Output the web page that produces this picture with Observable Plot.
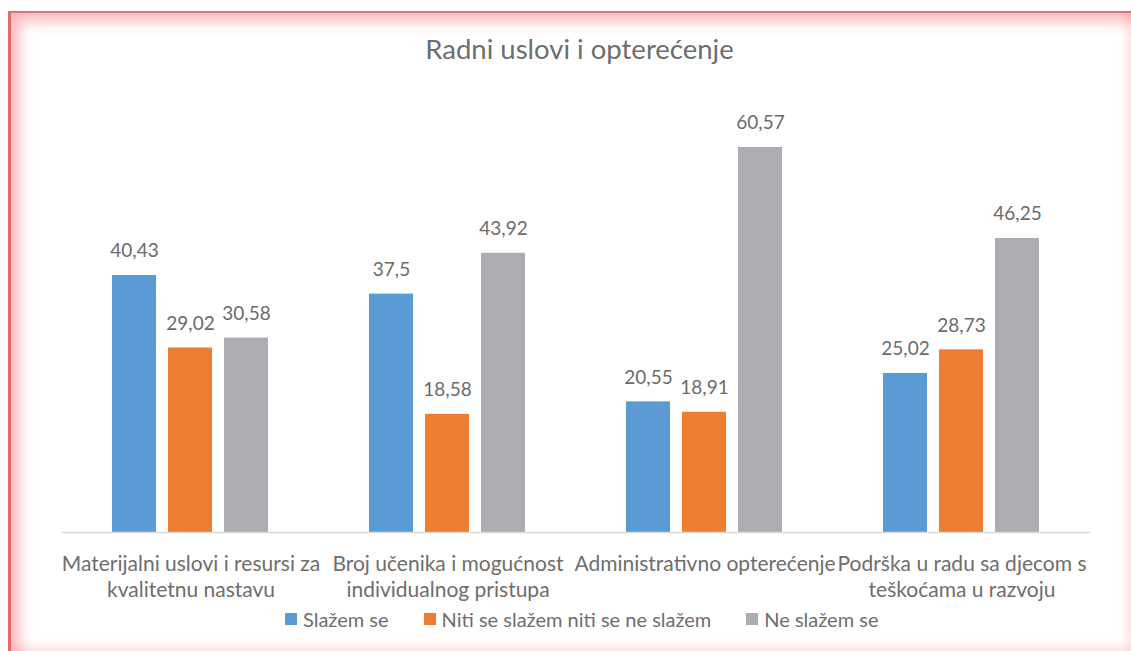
<!DOCTYPE html>
<html>
<head>
<meta charset="utf-8">
<script src="https://cdn.jsdelivr.net/npm/d3@7"></script>
<script src="https://cdn.jsdelivr.net/npm/@observablehq/plot@0.6"></script>
<style>
  html, body { margin: 0; padding: 0; background: #fff; }
  #wrap { position: relative; width: 1131px; height: 651px; overflow: hidden; background: #fff; font-family: Lato, "Open Sans", sans-serif; }
  #frame { position: absolute; left: 8px; top: 11px; width: 1123px; height: 640px; box-sizing: border-box;
    border-left: 3px solid #e26a74; border-top: 2px solid #d9767d;
    box-shadow: inset 14px 14px 14px -6px rgba(245,120,130,0.55), inset -8px -8px 10px -4px rgba(250,170,178,0.4); }
  #title { position: absolute; left: 0; width: 1159px; top: 32px; text-align: center; font-size: 27.5px; color: #6e6e6e; }
  #chart { position: absolute; left: 0; top: 0; }
  #legend { position: absolute; left: 285px; top: 607px; display: flex; gap: 35px; font-size: 20px; color: #6e6e6e; }
  .item { display: flex; align-items: center; gap: 6px; }
  .sw { width: 12px; height: 12px; display: inline-block; }
</style>
</head>
<body>
<div id="wrap">
  <div id="frame"></div>
  <div id="title">Radni uslovi i opterećenje</div>
  <div id="chart"></div>
  <div id="legend"></div>
</div>
<script>
const categories = [
  "Materijalni uslovi i resursi za kvalitetnu nastavu",
  "Broj učenika i mogućnost individualnog pristupa",
  "Administrativno opterećenje",
  "Podrška u radu sa djecom s teškoćama u razvoju"
];
const tickLabels = [
  "Materijalni uslovi i resursi za\nkvalitetnu nastavu",
  "Broj učenika i mogućnost\nindividualnog pristupa",
  "Administrativno opterećenje",
  "Podrška u radu sa djecom s\nteškoćama u razvoju"
];
const seriesNames = ["Slažem se", "Niti se slažem niti se ne slažem", "Ne slažem se"];
const seriesColors = ["#5B9BD5", "#ED7D31", "#ADADB1"];
const slazemSe = [40.43, 37.5, 20.55, 25.02];
const nitiNiti = [29.02, 18.58, 18.91, 28.73];
const neSlazemSe = [30.58, 43.92, 60.57, 46.25];

const seriesValues = [slazemSe, nitiNiti, neSlazemSe];
const data = [];
categories.forEach((c, i) => {
  seriesNames.forEach((s, j) => {
    data.push({category: c, series: s, value: seriesValues[j][i]});
  });
});
const fmt = v => String(v).replace(".", ",");

const chart = Plot.plot({
  width: 1131,
  height: 600,
  marginLeft: 62,
  marginRight: 41,
  marginTop: 87,
  marginBottom: 68,
  style: {fontFamily: "Lato, 'Open Sans', sans-serif", background: "transparent", overflow: "visible"},
  fx: {domain: categories, padding: 0, label: null, axis: null},
  x: {domain: seriesNames, paddingInner: 0.21, paddingOuter: 0.86, axis: null},
  y: {domain: [0, 70], axis: null},
  color: {domain: seriesNames, range: seriesColors},
  marks: [
    Plot.barY(data, {fx: "category", x: "series", y: "value", fill: "series"}),
    Plot.text(data, {fx: "category", x: "series", y: "value", text: d => fmt(d.value),
      dy: -18, lineAnchor: "bottom", fontSize: 19, fill: "#6b6b6b"}),
    Plot.axisFx({anchor: "bottom", tickSize: 0, tickPadding: 20, fontSize: 21, lineHeight: 1.24, color: "#6e6e6e",
      tickFormat: d => tickLabels[categories.indexOf(d)], label: null}),
    Plot.ruleY([0], {stroke: "#d9d9d9", strokeWidth: 1.5})
  ]
});
document.getElementById("chart").appendChild(chart);

const legend = document.getElementById("legend");
seriesNames.forEach((s, i) => {
  const item = document.createElement("div");
  item.className = "item";
  const sw = document.createElement("span");
  sw.className = "sw";
  sw.style.background = seriesColors[i];
  const t = document.createElement("span");
  t.textContent = s;
  item.appendChild(sw);
  item.appendChild(t);
  legend.appendChild(item);
});
</script>
</body>
</html>
